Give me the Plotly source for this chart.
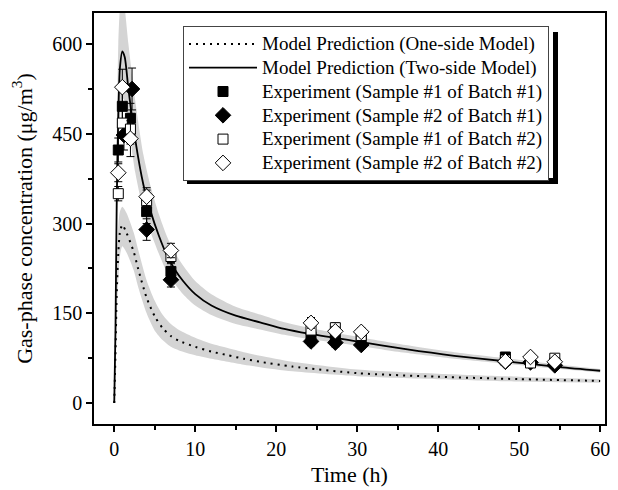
import plotly.graph_objects as go

# ---- Model curves ----
t_two = [0, 0.15, 0.3, 0.5, 0.7, 1.0, 1.3, 1.75, 2.6, 3.6, 4.5, 5.5, 6.5, 7.5, 8.5, 10, 12, 15, 18, 21, 24, 30, 36, 42, 48.9, 55, 60]
v_two = [0, 120, 330, 480, 560, 588, 578, 525, 440, 365, 320, 280, 247, 223, 204, 182, 163, 146, 135, 124, 116, 103, 90, 79, 69, 60, 54]
v_two_hi = [0, 160, 420, 600, 660, 690, 660, 600, 505, 415, 362, 316, 279, 251, 230, 204, 182, 161, 148, 135, 126, 111, 97, 85, 74, 64, 57]
v_two_lo = [0, 90, 260, 400, 470, 510, 505, 465, 385, 322, 285, 250, 219, 199, 182, 163, 147, 132, 123, 114, 107, 96, 84, 74, 65, 57, 51]

t_one = [0, 0.15, 0.3, 0.5, 0.7, 1.0, 1.5, 2.4, 3.0, 4.0, 5.0, 6.0, 7.0, 8.0, 10, 12, 14, 16, 18, 22, 30, 40, 50, 60]
v_one = [0, 80, 180, 250, 285, 298, 285, 253, 222, 176, 145, 125, 112, 104, 94, 86, 80, 74, 69, 61, 50, 44, 40, 37]
v_one_hi = [0, 100, 220, 295, 320, 328, 318, 285, 254, 205, 171, 147, 132, 122, 109, 99, 92, 85, 79, 69, 56, 49, 44, 40]
v_one_lo = [0, 60, 140, 205, 245, 262, 252, 222, 192, 150, 121, 105, 94, 88, 80, 74, 69, 64, 60, 53, 45, 40, 36, 34]

# ---- Experiments ----
t_s1b1 = [0.5, 1.0, 2.0, 4.0, 7.0, 24.3, 27.3, 30.5, 48.3, 51.4, 54.4]
v_s1b1 = [423, 496, 476, 320, 220, 111, 109, 108, 77, 72, 67]
e_s1b1 = [20, 30, 25, 20, 15, 8, 8, 8, 6, 6, 6]

t_s2b1 = [1.2, 2.2, 4.0, 7.0, 24.3, 27.3, 30.5, 48.3, 51.4, 54.4]
v_s2b1 = [448, 525, 290, 206, 103, 101, 97, 69, 68, 63]
e_s2b1 = [25, 35, 18, 12, 7, 7, 6, 5, 5, 5]

t_s1b2 = [0.5, 1.0, 2.0, 4.0, 7.0, 24.3, 27.3, 30.5, 48.3, 51.4, 54.4]
v_s1b2 = [350, 468, 458, 338, 245, 122, 126, 113, 72, 67, 75]
e_s1b2 = [12, 25, 25, 18, 12, 8, 8, 7, 6, 6, 6]

t_s2b2 = [0.5, 1.0, 2.0, 4.0, 7.0, 24.3, 27.3, 30.5, 48.3, 51.4, 54.4]
v_s2b2 = [385, 528, 442, 345, 255, 134, 120, 119, 70, 77, 69]
e_s2b2 = [15, 30, 30, 15, 12, 9, 8, 7, 6, 6, 6]

names = ["Model Prediction (One-side Model)", "Model Prediction (Two-side Model)",
         "Experiment (Sample #1 of Batch #1)", "Experiment (Sample #2 of Batch #1)",
         "Experiment (Sample #1 of Batch #2)", "Experiment (Sample #2 of Batch #2)"]

FONT = "Liberation Serif"
BAND = "#d4d4d4"

def lname(s):
    return '<span style="font-size:19px">' + s + '</span>'

fig = go.Figure()
for tt, lo, hi in [(t_two, v_two_lo, v_two_hi), (t_one, v_one_lo, v_one_hi)]:
    fig.add_trace(go.Scatter(x=tt, y=lo, mode="lines", line=dict(width=0, shape="spline", smoothing=0.7),
                             showlegend=False, hoverinfo="skip"))
    fig.add_trace(go.Scatter(x=tt, y=hi, mode="lines", line=dict(width=0, shape="spline", smoothing=0.7),
                             fill="tonexty", fillcolor=BAND, showlegend=False, hoverinfo="skip"))

fig.add_trace(go.Scatter(x=t_one, y=v_one, mode="lines", name=lname(names[0]),
                         line=dict(color="black", width=2, dash="2px,5px", shape="spline", smoothing=0.7)))
fig.add_trace(go.Scatter(x=t_two, y=v_two, mode="lines", name=lname(names[1]),
                         line=dict(color="black", width=1.8, shape="spline", smoothing=0.7)))

def exp_trace(t, v, e, name, symbol, fill):
    return go.Scatter(x=t, y=v, mode="markers", name=lname(name),
                      marker=dict(symbol=symbol, size=10 if "square" in symbol else 12, color=fill,
                                  line=dict(color="black", width=1)),
                      error_y=dict(type="data", array=e, visible=True, color="black", thickness=1, width=4))

fig.add_trace(exp_trace(t_s1b1, v_s1b1, e_s1b1, names[2], "square", "black"))
fig.add_trace(exp_trace(t_s2b1, v_s2b1, e_s2b1, names[3], "diamond", "black"))
fig.add_trace(exp_trace(t_s1b2, v_s1b2, e_s1b2, names[4], "square", "white"))
fig.add_trace(exp_trace(t_s2b2, v_s2b2, e_s2b2, names[5], "diamond", "white"))

axis_common = dict(showgrid=False, zeroline=False, showline=True, linecolor="black", linewidth=1.5,
                   mirror=True, ticks="outside", ticklen=6, tickwidth=1.5, tickcolor="black",
                   automargin=False,
                   tickfont=dict(family=FONT, size=20, color="black"),
                   title_font=dict(family=FONT, size=22, color="black"))

fig.update_xaxes(range=[-2.5, 60.6], dtick=10, tick0=0,
                 minor=dict(ticks="outside", ticklen=4, dtick=5, tick0=0, tickcolor="black", tickwidth=1.5),
                 title_text="Time (h)", title_standoff=8, **axis_common)
fig.update_yaxes(range=[-35, 652], dtick=150, tick0=0,
                 minor=dict(ticks="outside", ticklen=4, dtick=75, tick0=0, tickcolor="black", tickwidth=1.5),
                 title_text="Gas-phase concentration (\u03bcg/m<sup>3</sup>)", title_standoff=14, **axis_common)

# legend shadow (paper coordinates)
PW, PH, PL, PB = 511.0, 411.0, 94.0, 424.0
def px(x): return (x - PL) / PW
def py(y): return (PB - y) / PH
fig.add_shape(type="rect", xref="paper", yref="paper", x0=px(187), x1=px(558),
              y0=py(184), y1=py(178), fillcolor="black", line_width=0, layer="above")
fig.add_shape(type="rect", xref="paper", yref="paper", x0=px(553), x1=px(558),
              y0=py(184), y1=py(32), fillcolor="black", line_width=0, layer="above")

fig.update_layout(
    width=618, height=490,
    margin=dict(l=94, r=13, t=13, b=66),
    paper_bgcolor="white", plot_bgcolor="white",
    font=dict(family=FONT, color="black"),
    showlegend=True,
    legend=dict(x=px(183), y=py(26), xanchor="left", yanchor="top", bgcolor="white",
                bordercolor="#444", borderwidth=1, font=dict(family=FONT, size=16, color="black"),
                itemwidth=68, tracegroupgap=0, traceorder="normal"),
)

fig.write_html("out.html", config={"displayModeBar": False},
               post_script="document.body.style.margin='0';document.body.style.overflow='hidden';")
